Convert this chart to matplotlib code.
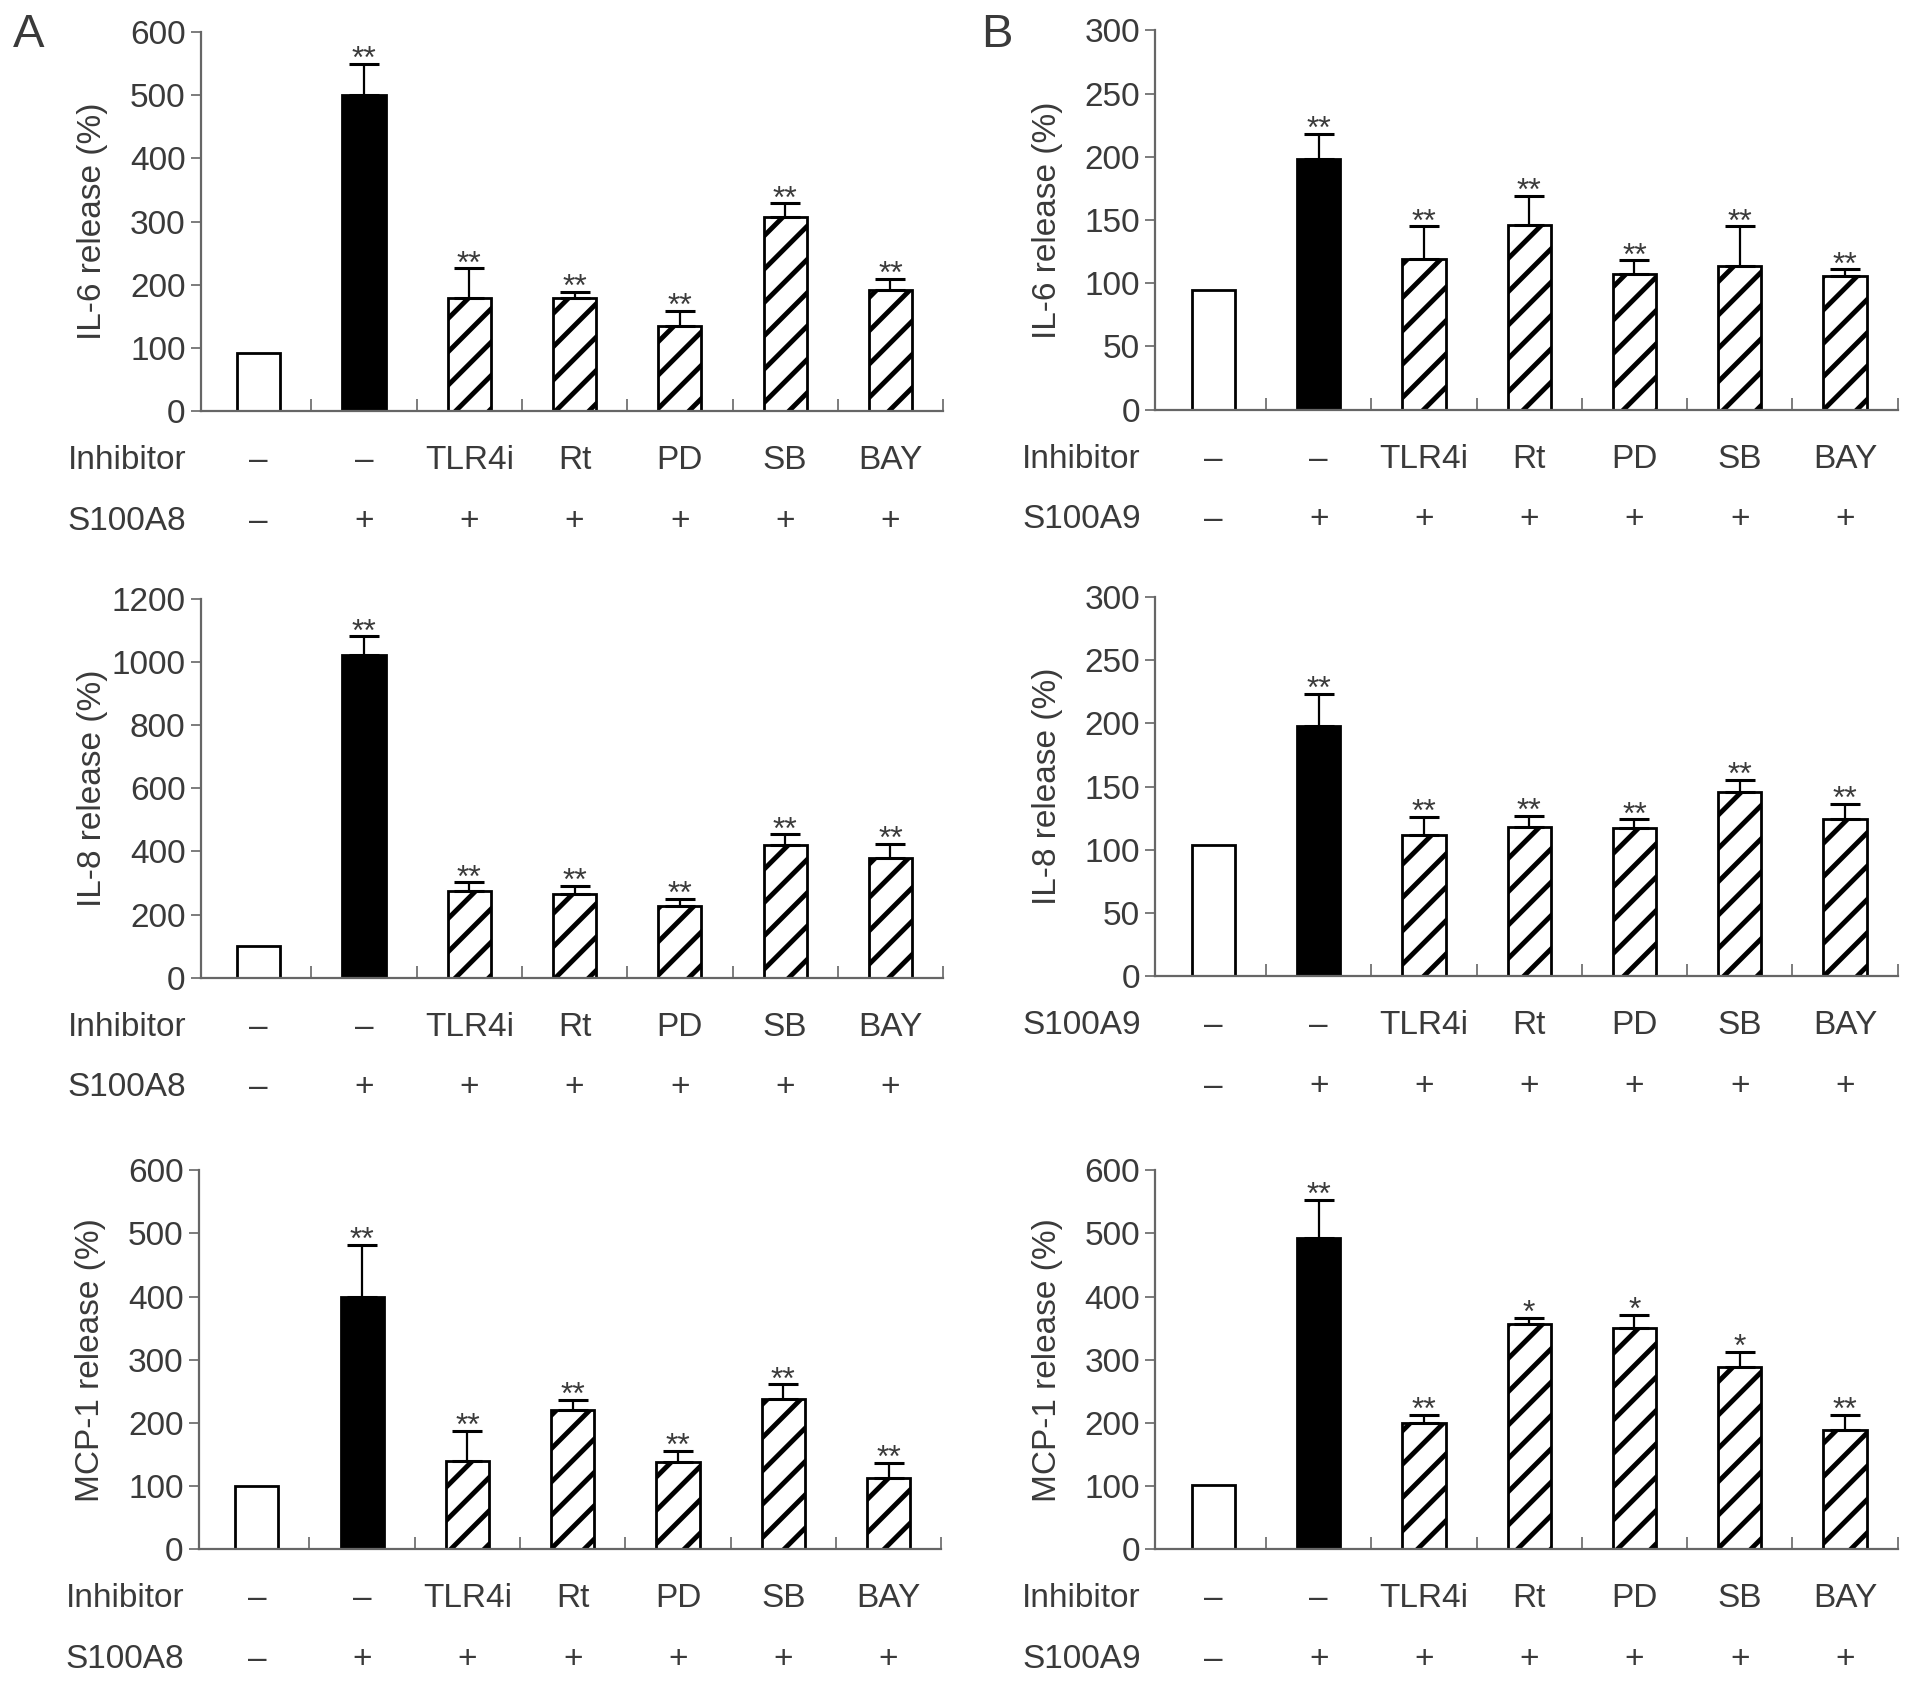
import numpy as np
import matplotlib
matplotlib.use('Agg')
import matplotlib.pyplot as plt
from matplotlib.transforms import blended_transform_factory

plt.rcParams['font.family'] = ['Liberation Sans', 'DejaVu Sans']
plt.rcParams['hatch.linewidth'] = 3.5

# shared category labels
inhibitors = ['–', '–', 'TLR4i', 'Rt', 'PD', 'SB', 'BAY']
stimulus = ['–', '+', '+', '+', '+', '+', '+']

# panel A (S100A8)
a_il6_mean = [93, 500, 179, 179, 135, 307, 192]
a_il6_err = [0, 50, 47, 10, 24, 22, 18]
a_il8_mean = [100, 1020, 275, 265, 227, 420, 380]
a_il8_err = [0, 60, 27, 27, 23, 34, 45]
a_mcp_mean = [100, 400, 140, 221, 139, 238, 113]
a_mcp_err = [0, 82, 48, 16, 17, 23, 24]

# panel B (S100A9)
b_il6_mean = [95, 198, 119, 146, 107, 114, 106]
b_il6_err = [0, 20, 26, 23, 11, 31, 5]
b_il8_mean = [104, 198, 112, 118, 117, 146, 124]
b_il8_err = [0, 25, 14, 9, 7, 9, 12]
b_mcp_mean = [102, 493, 200, 357, 351, 289, 189]
b_mcp_err = [0, 60, 13, 9, 20, 23, 24]

stars_all = ['', '**', '**', '**', '**', '**', '**']
stars_b_mcp = ['', '**', '**', '*', '*', '*', '**']

fig = plt.figure(figsize=(19.13, 16.86), dpi=100)

TXT = '#3a3a3a'
AX = '#666666'

panels = [
    # left, bottom, mean, err, ylabel, ymax, step, stars, row labels
    (0.105, 0.756, a_il6_mean, a_il6_err, 'IL-6 release (%)', 600, 100, stars_all, ['Inhibitor', 'S100A8']),
    (0.604, 0.757, b_il6_mean, b_il6_err, 'IL-6 release (%)', 300, 50, stars_all, ['Inhibitor', 'S100A9']),
    (0.105, 0.420, a_il8_mean, a_il8_err, 'IL-8 release (%)', 1200, 200, stars_all, ['Inhibitor', 'S100A8']),
    (0.604, 0.421, b_il8_mean, b_il8_err, 'IL-8 release (%)', 300, 50, stars_all, ['S100A9', '']),
    (0.104, 0.081, a_mcp_mean, a_mcp_err, 'MCP-1 release (%)', 600, 100, stars_all, ['Inhibitor', 'S100A8']),
    (0.604, 0.081, b_mcp_mean, b_mcp_err, 'MCP-1 release (%)', 600, 100, stars_b_mcp, ['Inhibitor', 'S100A9']),
]

x = np.arange(len(inhibitors))
fills = ['white', 'black'] + ['white'] * 5
hatches = ['', ''] + ['/'] * 5

for left, bottom, mean, err, ylabel, ymax, step, stars, rows in panels:
    ax = fig.add_axes([left, bottom, 0.388, 0.225])
    mean = np.array(mean, dtype=float)
    err = np.array(err, dtype=float)
    for i in range(len(x)):
        ax.bar(x[i], mean[i], width=0.41, color=fills[i], edgecolor='black',
               linewidth=2, hatch=hatches[i], zorder=2)
    ax.errorbar(x[1:], mean[1:], yerr=[np.zeros(len(x) - 1), err[1:]], fmt='none',
                ecolor='black', elinewidth=1.6, capsize=11, capthick=2.2, zorder=3)
    for i in range(len(x)):
        if stars[i]:
            ax.annotate(stars[i], (x[i], mean[i] + err[i]), xytext=(0, -8),
                        textcoords='offset points', ha='center', va='bottom',
                        fontsize=23, color=TXT)

    ax.set_xlim(-0.55, 6.5)
    ax.set_ylim(0, ymax)
    ax.set_yticks(np.arange(0, ymax + 1, step))
    ax.set_xticks(x + 0.5)
    ax.set_xticklabels([])
    ax.tick_params(axis='x', direction='in', length=9, width=1.2, color=AX)
    ax.tick_params(axis='y', direction='out', length=7, width=1.2, color=AX,
                   labelsize=24, labelcolor=TXT, pad=4)
    for s in ['top', 'right']:
        ax.spines[s].set_visible(False)
    for s in ['left', 'bottom']:
        ax.spines[s].set_color(AX)
        ax.spines[s].set_linewidth(1.6)
    ax.set_ylabel(ylabel, fontsize=24, color=TXT)
    ax.yaxis.set_label_coords(-0.125, 0.5)

    tr = blended_transform_factory(ax.transData, ax.transAxes)
    for i in range(len(x)):
        ax.text(x[i], -0.13, inhibitors[i], transform=tr, ha='center', va='center',
                fontsize=24, color=TXT)
        ax.text(x[i], -0.29, stimulus[i], transform=tr, ha='center', va='center',
                fontsize=24, color=TXT)
    ax.text(-0.02, -0.13, rows[0], transform=ax.transAxes, ha='right', va='center',
            fontsize=24, color=TXT)
    ax.text(-0.02, -0.29, rows[1], transform=ax.transAxes, ha='right', va='center',
            fontsize=24, color=TXT)

fig.text(0.007, 0.992, 'A', fontsize=34, color=TXT, ha='left', va='top')
fig.text(0.513, 0.992, 'B', fontsize=34, color=TXT, ha='left', va='top')

fig.savefig('out.png', dpi=100)
